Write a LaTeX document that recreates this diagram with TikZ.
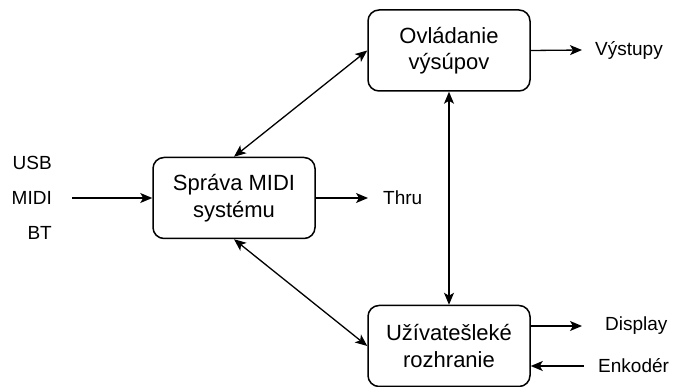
\documentclass[tikz,border=0pt]{standalone}
\usepackage{fontspec}
\setmainfont{Liberation Sans}
\usetikzlibrary{arrows.meta}
\begin{document}
\begin{tikzpicture}[x=1pt,y=-1pt,
  tip/.tip={Stealth[length=12pt,width=10pt,inset=3pt]},
  blk/.style={draw,line width=1.5pt,rounded corners=11pt,minimum width=162pt,minimum height=81pt,inner sep=0pt,align=center,font=\fontsize{22}{26.5}\selectfont},
  lbl/.style={inner sep=0pt,font=\fontsize{19}{22}\selectfont},
  arr/.style={line width=1.3pt,-tip},
  barr/.style={line width=1.3pt,tip-tip}]
\useasboundingbox (0,0) rectangle (675,387);
\node[blk] (A) at (234,198) {Správa MIDI\\systému};
\node[blk] (B) at (449,50.5) {Ovládanie\\výsúpov};
\node[blk] (C) at (449,346) {Užívatešleké\\rozhranie};
\node[lbl,anchor=east] (usb) at (52,163) {USB};
\node[lbl,anchor=east] (midi) at (52,198) {MIDI};
\node[lbl,anchor=east] (bt) at (52,233) {BT};
\coordinate (inp) at (72,198);
\node[lbl,anchor=west] (thru) at (383,198) {Thru};
\coordinate (thruE) at (368,198);
\node[lbl,anchor=west] (vys) at (595,50) {Výstupy};
\coordinate (vysE) at (582,50);
\node[lbl,anchor=west] (disp) at (605,326) {Display};
\coordinate (dispE) at (582,326);
\node[lbl,anchor=west] (enk) at (598,366) {Enkodér};
\coordinate (enkS) at (584,366);
\draw[arr] (inp) -- (A.west);
\draw[arr] (A.east) -- (thruE);
\draw[arr] (B.east) -- (vysE);
\draw[arr] (C.east |- dispE) -- (dispE);
\draw[arr] (enkS) -- (C.east |- enkS);
\draw[barr] (A.north) -- (B.west);
\draw[barr] (A.south) -- (C.west);
\draw[barr] (B.south) -- (C.north);
\end{tikzpicture}
\end{document}
